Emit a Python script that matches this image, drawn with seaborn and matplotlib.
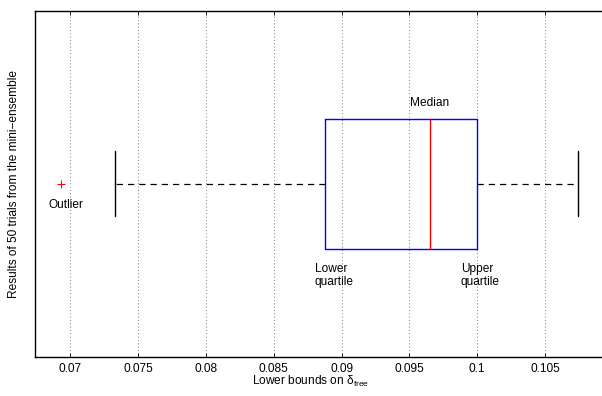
import numpy as np
import pandas as pd
import matplotlib
matplotlib.use("Agg")
import matplotlib.pyplot as plt
import seaborn as sns

# representative trial results
trial_bounds = [0.0693, 0.0733, 0.08875, 0.0930, 0.0965, 0.0985, 0.09995, 0.1040, 0.1074]

x_ticks = [0.07, 0.075, 0.08, 0.085, 0.09, 0.095, 0.1, 0.105]
x_tick_labels = ["0.07", "0.075", "0.08", "0.085", "0.09", "0.095", "0.1", "0.105"]

fs = 8.6
sns.set_style("white")
plt.rcParams['font.family'] = ['Liberation Sans', 'DejaVu Sans']
plt.rcParams['mathtext.fontset'] = 'custom'
plt.rcParams['mathtext.rm'] = 'Liberation Sans'
plt.rcParams['mathtext.it'] = 'Liberation Sans:italic'
plt.rcParams['font.size'] = fs
plt.rcParams['text.color'] = 'black'
plt.rcParams['axes.labelcolor'] = 'black'
plt.rcParams['xtick.color'] = 'black'

fig = plt.figure(figsize=(6.02, 3.96), dpi=100)
# the right edge of the frame runs past the picture, as in the reference
ax_left, ax_w = 0.0581, 0.97
ax = fig.add_axes([ax_left, 0.0997, ax_w, 0.8725])

df = pd.DataFrame({"bound": trial_bounds})
sns.boxplot(data=df, x="bound", orient="h", width=0.5, whis=1.5, ax=ax,
            fill=False, linewidth=1,
            boxprops=dict(color="blue", linewidth=1),
            medianprops=dict(color="red", linewidth=1),
            whiskerprops=dict(color="black", linestyle=(0, (5, 4)), linewidth=0.9),
            capprops=dict(color="black", linewidth=1),
            flierprops=dict(marker="+", markeredgecolor="red", markersize=6, markeredgewidth=0.8))

ax.set_xlim(0.06738, 0.06738 + (0.10928 - 0.06738) * ax_w / 0.9436)
ax.set_ylim(0.665, -0.665)
ax.set_xticks(x_ticks)
ax.set_xticklabels(x_tick_labels)
ax.set_yticks([])
ax.grid(axis="x", color="black", linestyle=(0, (1, 3)), linewidth=0.6, alpha=0.7)
ax.tick_params(axis="x", direction="in", top=True, bottom=True, length=3, width=0.6, pad=4.5,
               labelsize=fs, colors="black")
for s in ax.spines.values():
    s.set_color("black")
    s.set_linewidth(1)

ax.set_xlabel("Lower bounds on \u03b4$_{\\rm free}$", fontsize=fs)
ax.xaxis.label.set_va("center")
ax.xaxis.set_label_coords((311 - 35) / (ax_w * 602), -0.071)
ax.set_ylabel("Results of 50 trials from the mini\u2212ensemble", fontsize=fs, labelpad=11)

ax.text(0.0965, -0.311, "Median", ha="center", va="center", fontsize=fs)
ax.text(0.0880, 0.354, "Lower\nquartile", ha="left", va="center", fontsize=fs, linespacing=1.1)
ax.text(0.0988, 0.354, "Upper\nquartile", ha="left", va="center", fontsize=fs, linespacing=1.1)
ax.text(0.0697, 0.081, "Outlier", ha="center", va="center", fontsize=fs)

fig.savefig("out.png", dpi=100)
